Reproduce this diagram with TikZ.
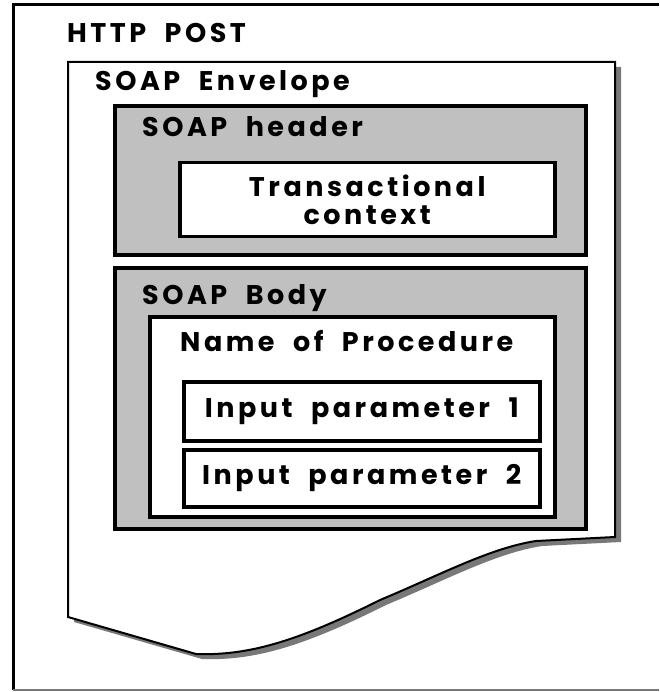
\documentclass[tikz,border=0pt]{standalone}
\usepackage{fontspec}
\setmainfont{Poppins}[LetterSpace=13, WordSpace=2]
\definecolor{boxGray}{RGB}{192,192,192}
\definecolor{shadowGray}{RGB}{120,120,120}
\begin{document}
\begin{tikzpicture}[x=1pt,y=-1pt]
	\tikzstyle{grayBox} = [rectangle, draw=black, line width=4pt, fill=boxGray, anchor=north west, inner sep=0pt]
	\tikzstyle{whiteBox} = [rectangle, draw=black, line width=3.5pt, fill=white, anchor=north west, inner sep=0pt, text centered, align=center, font=\fontsize{27}{28}\selectfont\bfseries]
	\tikzstyle{label} = [anchor=west, inner sep=0pt, font=\fontsize{27}{28}\selectfont\bfseries]
	\useasboundingbox (0,0) rectangle (659,692);
	% outer frame
	\draw [line width=3pt] (659,5) -- (13,5) -- (13,690);
	\draw [line width=2pt, shadowGray] (13,690) -- (659,690);
	% envelope page with shadow
	\fill [shadowGray, xshift=6pt, yshift=-5pt] (68,62) -- (615,62) -- (615,537) -- (536,541)
		.. controls (490,548) and (440,575) .. (380,600)
		.. controls (300,640) and (250,656) .. (196,654) -- (68,617) -- cycle;
	\draw [line width=2pt, fill=white] (68,62) -- (615,62) -- (615,537) -- (536,541)
		.. controls (490,548) and (440,575) .. (380,600)
		.. controls (300,640) and (250,656) .. (196,654) -- (68,617) -- cycle;
	\node (httpLabel) [label] at (67,33) {HTTP POST};
	\node (envelopeLabel) [label] at (95,84) {SOAP Envelope};
	% header
	\node (header) [grayBox, minimum width=471pt, minimum height=149pt] at (113,104) {};
	\node (headerLabel) [label] at (142,127) {SOAP header};
	\node (context) [whiteBox, minimum width=375pt, minimum height=74pt] at (178,161) {Transactional\\context};
	% body
	\node (body) [grayBox, minimum width=471pt, minimum height=261pt] at (113,266) {};
	\node (bodyLabel) [label] at (142,298) {SOAP Body};
	\node (procedure) [whiteBox, minimum width=405pt, minimum height=200pt] at (148,315) {};
	\node (procedureLabel) [label] at (180,341) {Name of Procedure};
	\node (param1) [whiteBox, minimum width=356pt, minimum height=59pt] at (182,380) {Input parameter 1};
	\node (param2) [whiteBox, minimum width=356pt, minimum height=57pt] at (182,448) {Input parameter 2};
\end{tikzpicture}
\end{document}
